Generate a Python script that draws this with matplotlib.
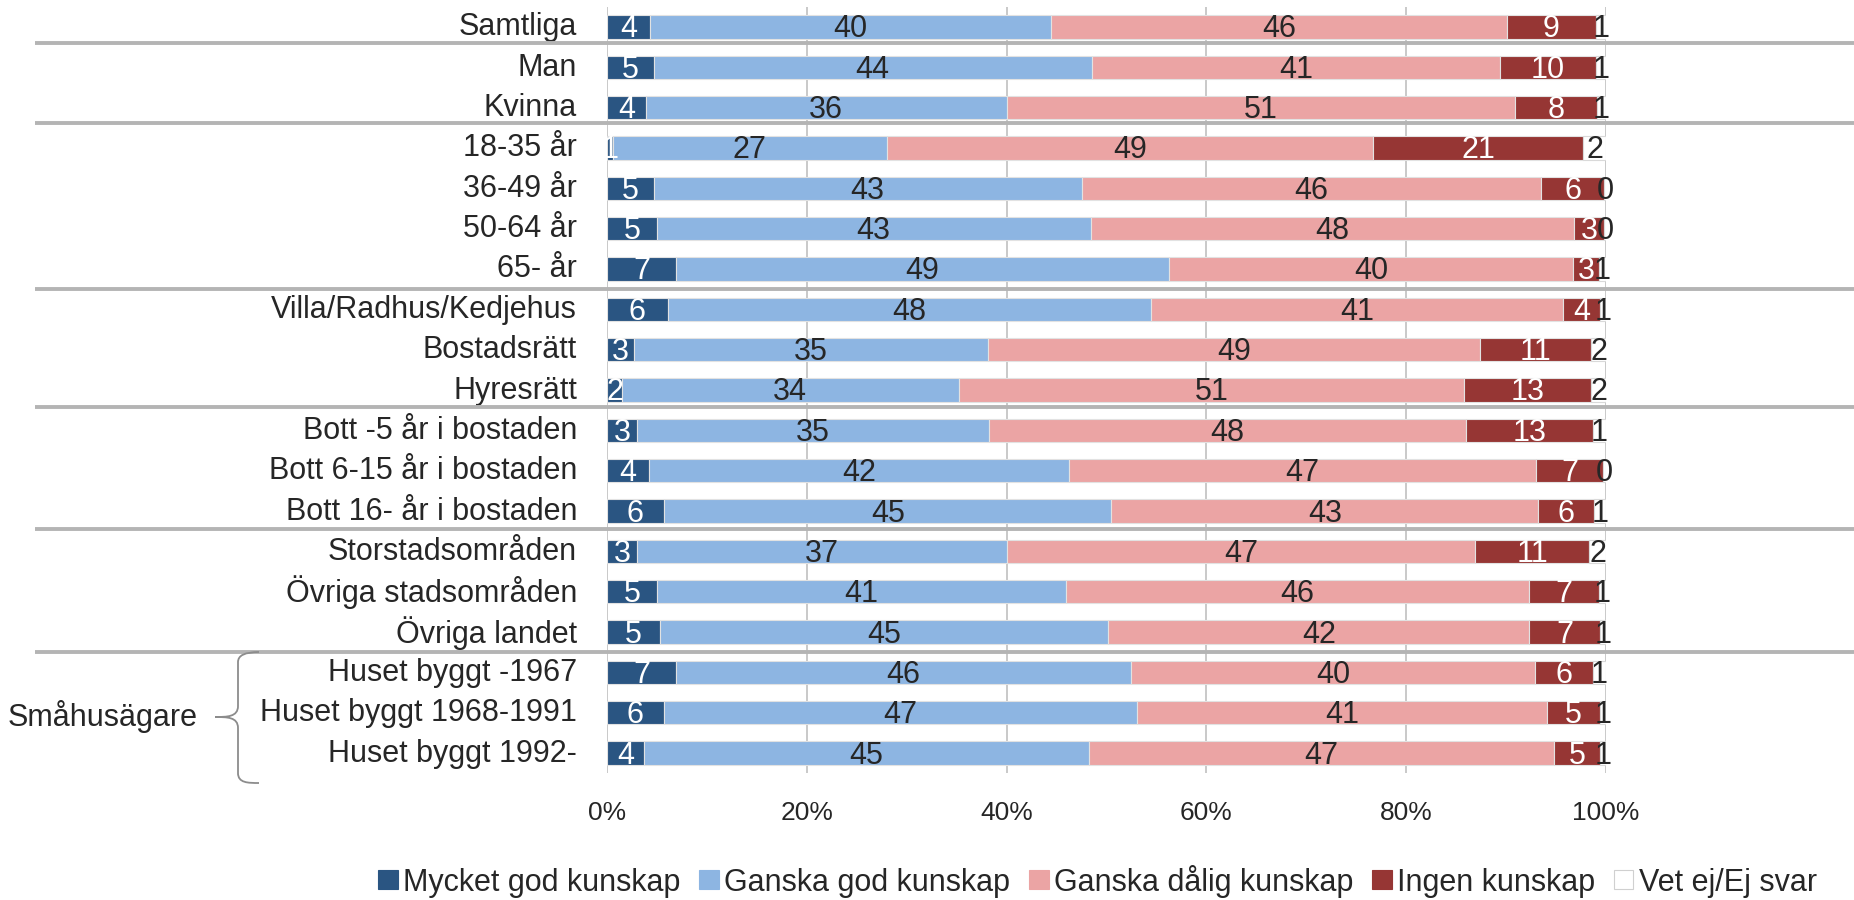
import matplotlib
matplotlib.use("Agg")
import matplotlib.pyplot as plt
import numpy as np
from matplotlib.patches import Rectangle, PathPatch
from matplotlib.path import Path
import matplotlib.transforms as mtransforms

plt.rcParams['font.family'] = ['Liberation Sans Narrow', 'Liberation Sans', 'DejaVu Sans']

categories = ["Samtliga", "Man", "Kvinna", "18-35 år", "36-49 år", "50-64 år", "65- år",
              "Villa/Radhus/Kedjehus", "Bostadsrätt", "Hyresrätt",
              "Bott -5 år i bostaden", "Bott 6-15 år i bostaden", "Bott 16- år i bostaden",
              "Storstadsområden", "Övriga stadsområden", "Övriga landet",
              "Huset byggt -1967", "Huset byggt 1968-1991", "Huset byggt 1992-"]

series_names = ["Mycket god kunskap", "Ganska god kunskap", "Ganska dålig kunskap",
                "Ingen kunskap", "Vet ej/Ej svar"]

mycket_god = [4.3, 4.7, 3.9, 0.6, 4.7, 5.0, 6.9, 6.1, 2.7, 1.5, 3.0, 4.2, 5.7, 3.0, 5.0, 5.3, 6.9, 5.7, 3.7]
ganska_god = [40.1, 43.8, 36.1, 27.4, 42.8, 43.4, 49.4, 48.4, 35.4, 33.7, 35.2, 42.0, 44.8, 37.0, 40.9, 44.9, 45.6, 47.4, 44.6]
ganska_dalig = [45.7, 40.9, 50.9, 48.7, 46.0, 48.4, 40.4, 41.2, 49.3, 50.6, 47.8, 46.8, 42.7, 46.9, 46.4, 42.1, 40.4, 41.1, 46.6]
ingen = [8.9, 9.6, 8.2, 21.0, 6.3, 3.0, 2.6, 3.7, 11.1, 12.7, 12.7, 6.7, 5.6, 11.4, 7.0, 7.1, 5.8, 5.3, 4.6]
vet_ej = [1.0, 1.0, 0.9, 2.3, 0.2, 0.2, 0.7, 0.6, 1.5, 1.5, 1.3, 0.3, 1.2, 1.7, 0.7, 0.6, 1.3, 0.6, 0.6]

xticks = [0, 20, 40, 60, 80, 100]
xtick_labels = ["0%", "20%", "40%", "60%", "80%", "100%"]

group_label = "Småhusägare"
separator_rows = [0.41, 2.39, 6.50, 9.41, 12.44, 15.49]

colors = ["#2A5582", "#8DB5E2", "#EBA4A4", "#963634", "#FFFFFF"]
label_colors = ["white", "#262626", "#262626", "white", "#262626"]
text_color = "#262626"
FS = 22

W, H = 1854, 900
fig = plt.figure(figsize=(W / 100, H / 100), dpi=100)
ax = fig.add_axes([607 / W, 1 - 773.3 / H, 999 / W, 766.6 / H])

data = np.array([mycket_god, ganska_god, ganska_dalig, ingen, vet_ej])
totals = data.sum(axis=0)
norm = data / totals * 100
y = np.arange(len(categories))

up = mtransforms.ScaledTranslation(0, 1 / 100, fig.dpi_scale_trans)

left = np.zeros(len(categories))
for i in range(len(series_names)):
    w = norm[i]
    ax.barh(y, w, left=left, height=0.58, color=colors[i],
            edgecolor="#D9D9D9" if i == 4 else "#E2E2E2", linewidth=0.8, zorder=3,
            label=series_names[i])
    for j in range(len(categories)):
        ax.text(left[j] + w[j] / 2, y[j], f"{int(round(data[i][j]))}",
                ha="center", va="center_baseline", color=label_colors[i], fontsize=FS,
                zorder=5, transform=ax.transData + up)
    left = left + w

ax.set_xlim(0, 100)
ax.set_ylim(len(categories) - 0.5, -0.5)
ax.set_yticks(y)
ax.set_yticklabels([])
# category labels drawn as text (x in axes coords, y in data coords), shifted left/up
cat_off = mtransforms.ScaledTranslation(-30 / 100, 3 / 100, fig.dpi_scale_trans)
for j, name in enumerate(categories):
    ax.text(0, y[j], name, ha="right", va="center_baseline", fontsize=FS, color=text_color,
            transform=ax.get_yaxis_transform() + cat_off, clip_on=False)
ax.set_xticks(xticks)
ax.set_xticklabels(xtick_labels, fontsize=FS - 3, color=text_color)
ax.tick_params(axis="y", length=0)
ax.tick_params(axis="x", length=0, pad=20)
for s in ax.spines.values():
    s.set_visible(False)
ax.grid(axis="x", color="#C0C0C0", linewidth=1.2, zorder=0)
ax.set_axisbelow(True)

# separators between groups (x in figure coords, y in data coords)
trans = mtransforms.blended_transform_factory(fig.transFigure, ax.transData)
for r in separator_rows:
    ax.plot([35 / W, 1.0], [r, r], transform=trans, color="#B4B4B4", linewidth=2.8,
            clip_on=False, zorder=6, solid_capstyle="butt")

# brace for Småhusägare group
def fp(px, py):
    return (px / W, 1 - py / H)

verts = [fp(259, 652), fp(238, 652), fp(238, 662),
         fp(238, 706),
         fp(238, 717), fp(227, 717), fp(215, 717),
         fp(227, 717), fp(238, 717), fp(238, 728),
         fp(238, 773),
         fp(238, 783), fp(248, 783), fp(259, 783)]
codes = [Path.MOVETO, Path.CURVE3, Path.CURVE3,
         Path.LINETO,
         Path.CURVE4, Path.CURVE4, Path.CURVE4,
         Path.CURVE4, Path.CURVE4, Path.CURVE4,
         Path.LINETO,
         Path.CURVE4, Path.CURVE4, Path.CURVE4]
brace = PathPatch(Path(verts, codes), transform=fig.transFigure, fill=False,
                  edgecolor="#8C8C8C", linewidth=1.3)
fig.add_artist(brace)
fig.text(198 / W, 1 - 713 / H, group_label, ha="right", va="center_baseline",
         fontsize=FS, color=text_color)

handles = [Rectangle((0, 0), 1, 1, facecolor=colors[i],
                     edgecolor="#D0D0D0" if i == 4 else colors[i], linewidth=0.8)
           for i in range(len(series_names))]
fig.legend(handles, series_names, loc="center", ncol=5,
           bbox_to_anchor=((376 + 1819) / 2 / W, 1 - 881 / H),
           frameon=False, fontsize=FS, handlelength=0.65, handleheight=0.6,
           handletextpad=0.18, columnspacing=0.6, labelcolor=text_color)

fig.savefig("out.png", dpi=100, facecolor="white")
